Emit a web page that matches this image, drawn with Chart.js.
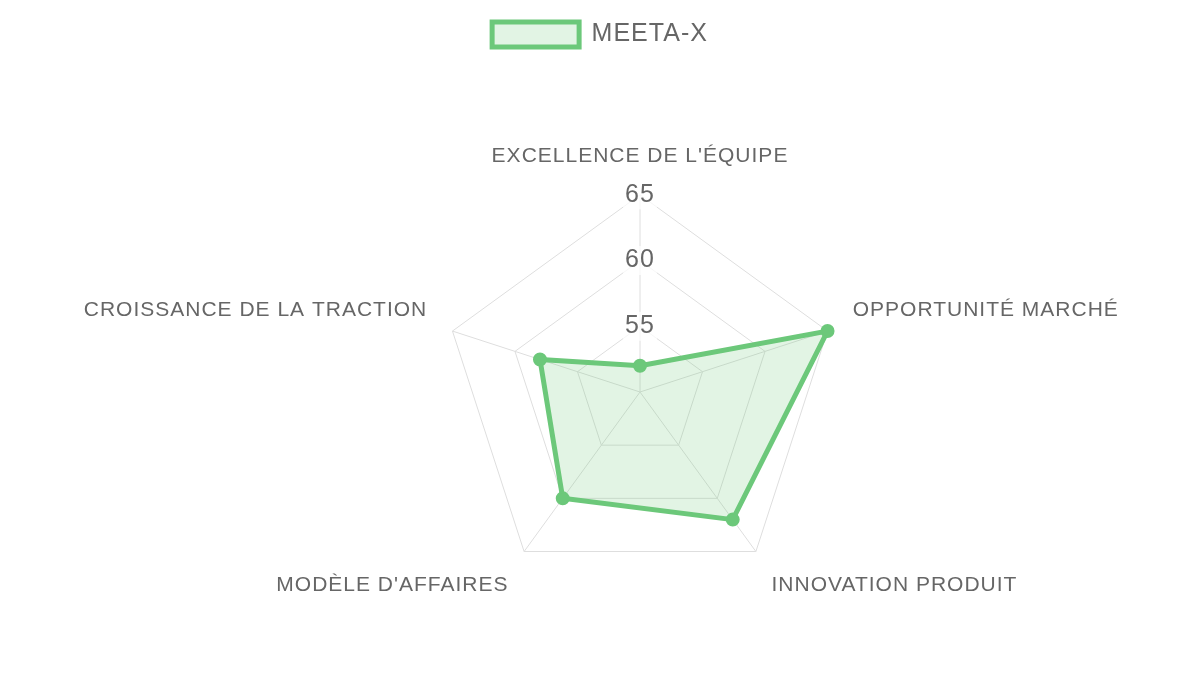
<!DOCTYPE html>
<html>
<head>
<meta charset="utf-8">
<script src="https://cdn.jsdelivr.net/npm/chart.js@4"></script>
<style>
  html, body { margin: 0; padding: 0; background: #fff; }
  #wrap { width: 1200px; height: 675px; }
</style>
</head>
<body>
<div id="wrap"><canvas id="radarChart"></canvas></div>
<script>
    // Axes of the radar
    const categories = ["EXCELLENCE DE L'ÉQUIPE", 'OPPORTUNITÉ MARCHÉ', 'INNOVATION PRODUIT', "MODÈLE D'AFFAIRES", 'CROISSANCE DE LA TRACTION'];
    // Scores
    const meetaScores = [52, 65, 62, 60, 58];
    const seriesName = 'MEETA-X';
    const scaleMin = 50;
    const scaleMax = 65;
    const scaleStep = 5;

    const green = 'rgb(108, 200, 122)';

    Chart.defaults.font.family = '"Liberation Sans", Arial, sans-serif';
    Chart.defaults.color = '#666';

    // the reference text is a bit spaced out, canvas letterSpacing does that
    const letterSpacing = {
        id: 'letterSpacing',
        beforeUpdate(chart) { chart.ctx.letterSpacing = '1px'; },
        beforeDraw(chart) { chart.ctx.letterSpacing = '1px'; }
    };

    // extra room under the legend
    const legendGap = {
        id: 'legendGap',
        beforeInit(chart) {
            const origFit = chart.legend.fit;
            chart.legend.fit = function () {
                origFit.bind(chart.legend)();
                this.height += 16;
            };
        }
    };

    const ctx = document.getElementById('radarChart').getContext('2d');
    const radarChart = new Chart(ctx, {
        type: 'radar',
        data: {
            labels: categories,
            datasets: [{
                label: seriesName,
                data: meetaScores,
                borderColor: green,
                backgroundColor: 'rgba(108, 200, 122, 0.2)',
                borderWidth: 5,
                pointBackgroundColor: green,
                pointBorderColor: green,
                pointBorderWidth: 2,
                pointRadius: 6,
                fill: true
            }]
        },
        options: {
            responsive: true,
            maintainAspectRatio: false,
            animation: false,
            layout: { padding: { top: 12, bottom: 0, left: 43, right: 43 } },
            plugins: {
                legend: {
                    labels: {
                        font: { size: 25 },
                        boxWidth: 87,
                        boxHeight: 25,
                        padding: 10
                    }
                },
                tooltip: { enabled: false }
            },
            scales: {
                r: {
                    min: scaleMin,
                    max: scaleMax,
                    ticks: {
                        stepSize: scaleStep,
                        font: { size: 25 },
                        color: '#666'
                    },
                    grid: { color: '#dedede' },
                    angleLines: { color: '#dedede' },
                    pointLabels: {
                        font: { size: 21 },
                        color: '#666',
                        padding: 12
                    }
                }
            }
        },
        plugins: [letterSpacing, legendGap]
    });
</script>
</body>
</html>
